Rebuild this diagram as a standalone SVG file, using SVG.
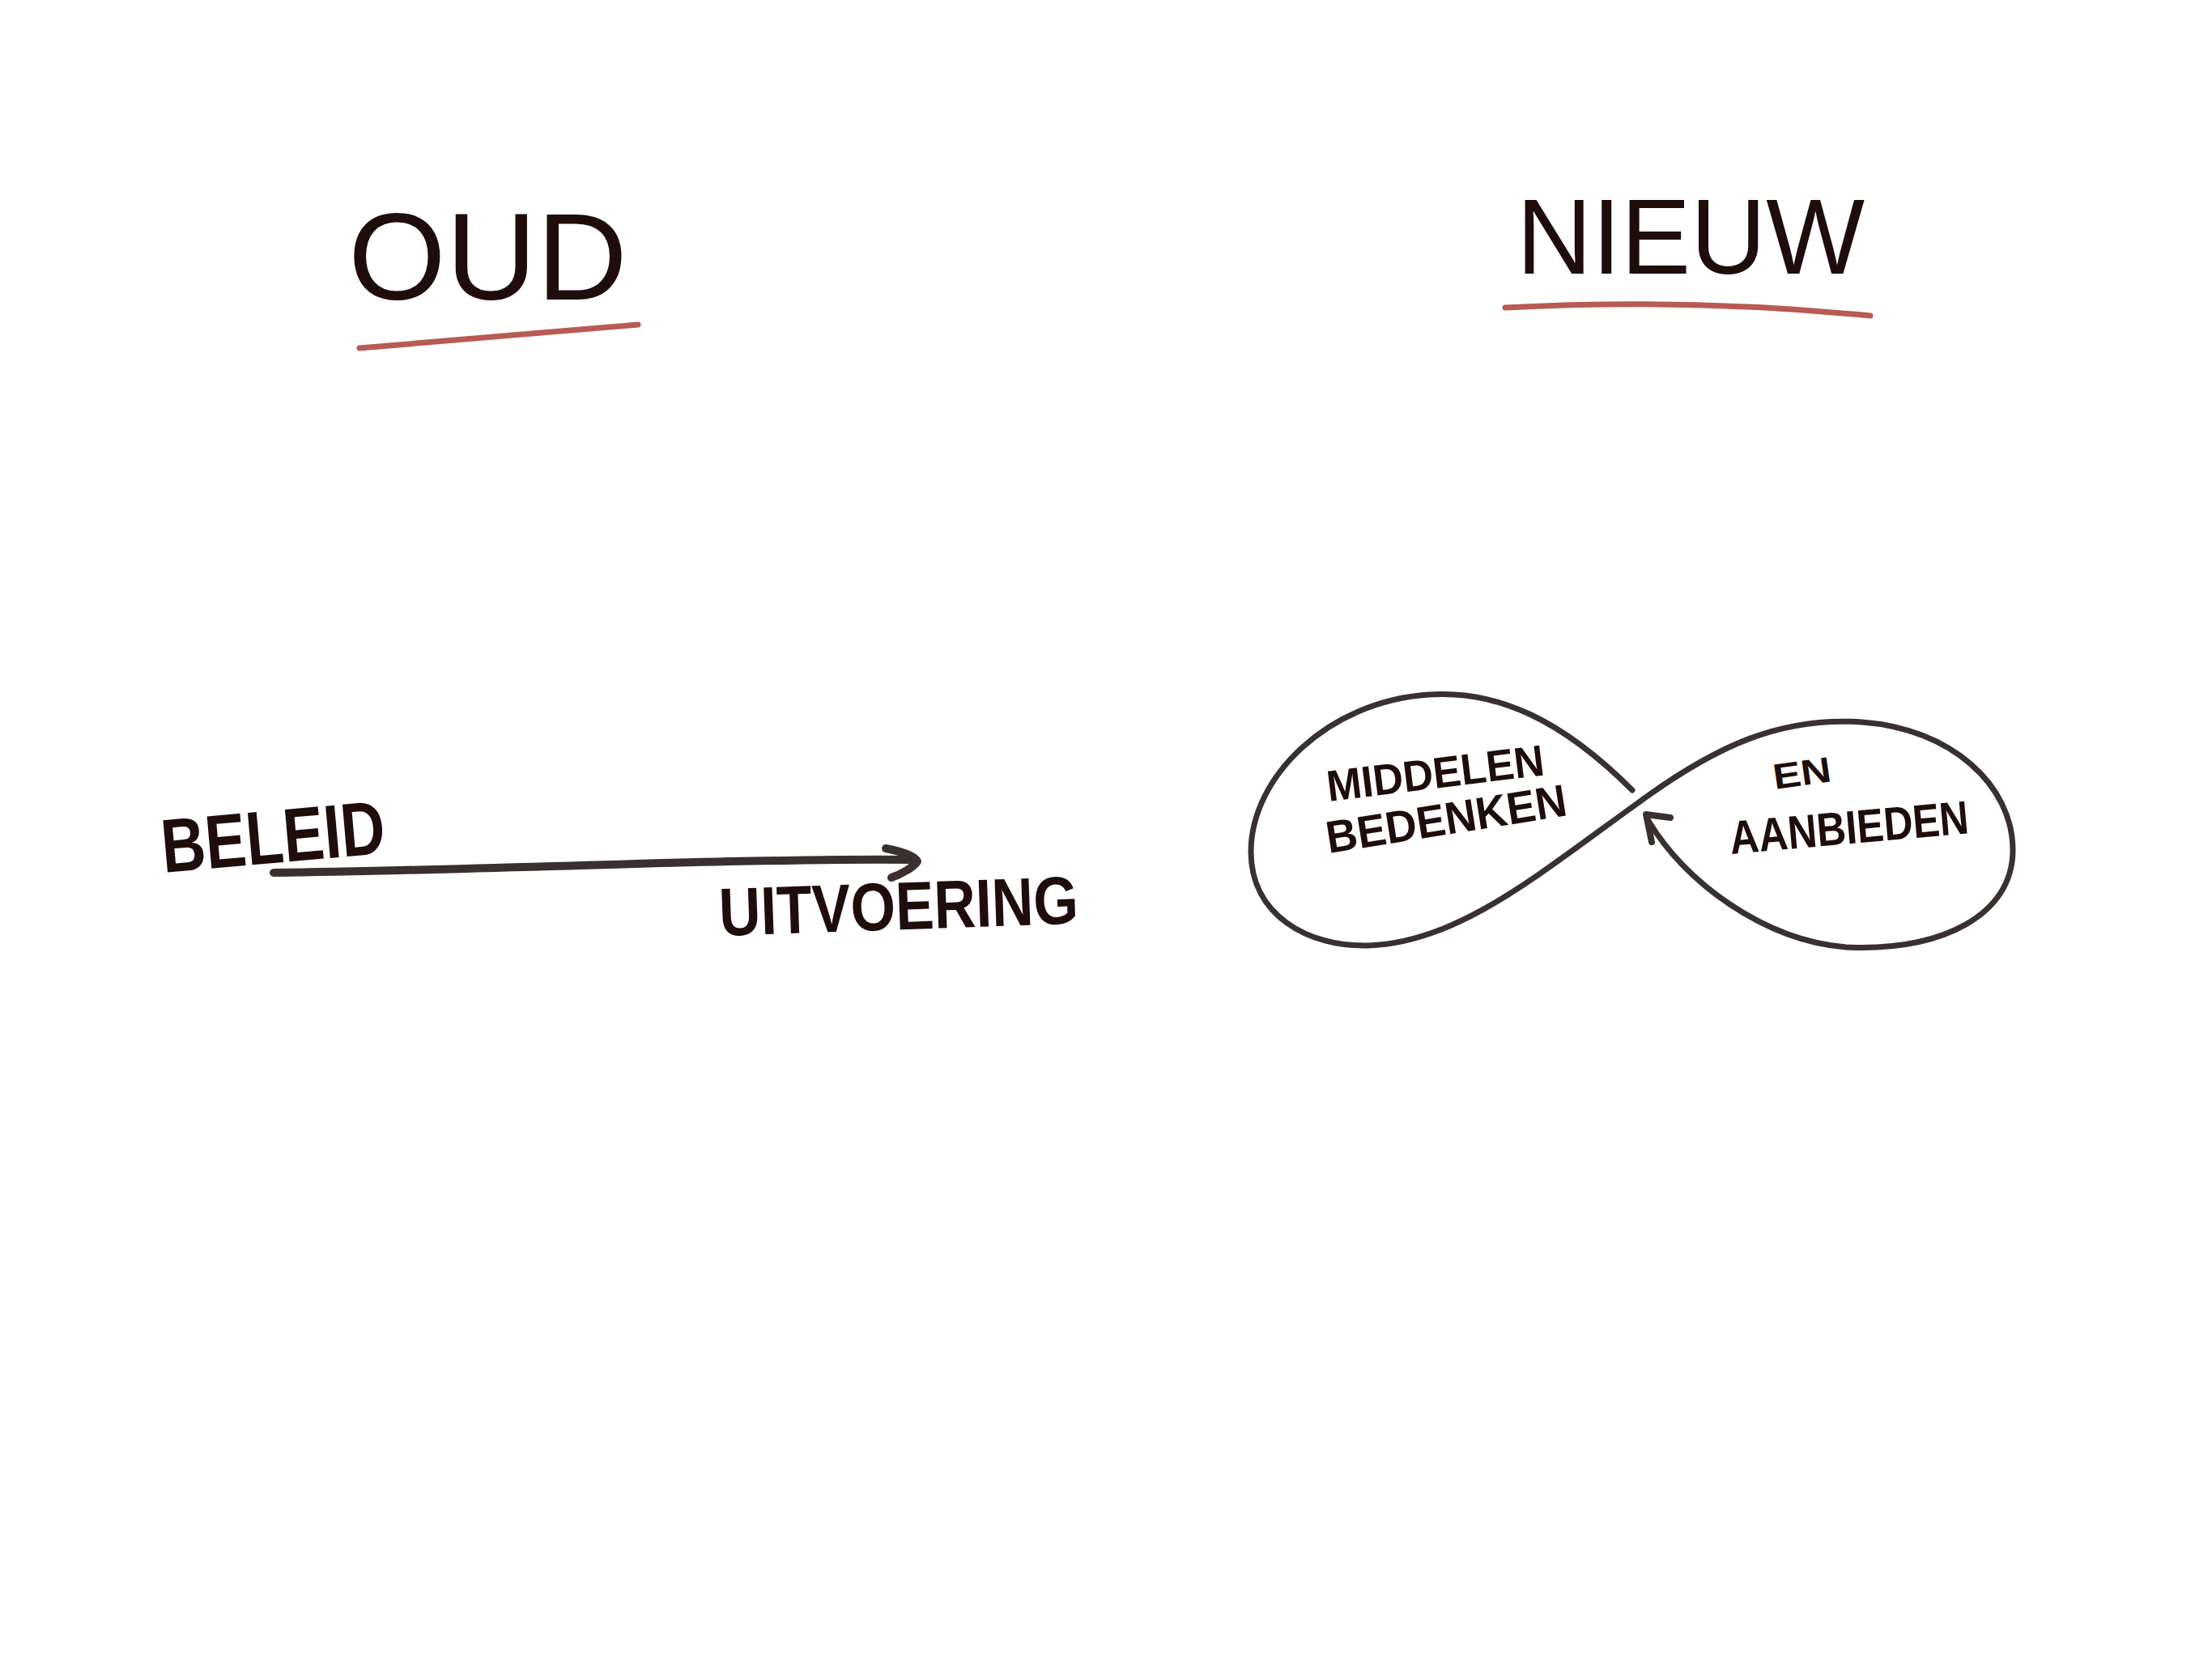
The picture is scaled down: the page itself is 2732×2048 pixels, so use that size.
<svg xmlns="http://www.w3.org/2000/svg" width="2732" height="2048" viewBox="0 0 2732 2048">
<style>
.t{font-family:"Liberation Sans","DejaVu Sans",sans-serif;fill:#1e0d0a}
.h{font-weight:normal}
.b{font-weight:bold}
.line{fill:none;stroke:#3a3030;stroke-linecap:round;stroke-linejoin:round}
.red{fill:none;stroke:#b85a55;stroke-width:7;stroke-linecap:round}
</style>
<rect width="2732" height="2048" fill="#ffffff"/>
<g id="title-oud">
<text class="t h" x="430" y="370" font-size="152" textLength="345" lengthAdjust="spacingAndGlyphs">OUD</text>
<path class="red" d="M444 430 L788 401"/>
</g>
<g id="title-nieuw">
<text class="t h" x="1873" y="338" font-size="132" textLength="430" lengthAdjust="spacingAndGlyphs">NIEUW</text>
<path class="red" d="M1859 380 Q2085 368 2310 390"/>
</g>
<g id="node-beleid">
<text class="t b" x="202" y="1078" font-size="94" textLength="277" lengthAdjust="spacingAndGlyphs" transform="rotate(-5 202 1078)">BELEID</text>
</g>
<g id="node-uitvoering">
<text class="t b" x="889" y="1156" font-size="84" textLength="444" lengthAdjust="spacingAndGlyphs" transform="rotate(-2 889 1156)">UITVOERING</text>
</g>
<g id="node-middelen">
<text class="t b" x="1641" y="990" font-size="54" textLength="270" lengthAdjust="spacingAndGlyphs" transform="rotate(-7 1641 990)">MIDDELEN</text>
<text class="t b" x="1641" y="1054" font-size="56" textLength="300" lengthAdjust="spacingAndGlyphs" transform="rotate(-9 1641 1054)">BEDENKEN</text>
</g>
<g id="node-aanbieden">
<text class="t b" x="2192" y="975" font-size="44" textLength="72" lengthAdjust="spacingAndGlyphs" transform="rotate(-8 2192 975)">EN</text>
<text class="t b" x="2138" y="1055" font-size="58" textLength="296" lengthAdjust="spacingAndGlyphs" transform="rotate(-5 2138 1055)">AANBIEDEN</text>
</g>
<g id="connectors">
<path class="line" stroke-width="10" d="M338 1078 C600 1075 900 1060 1128 1062"/>
<path class="line" stroke-width="10" d="M1094 1048 C1115 1052 1130 1058 1133 1064 C1128 1072 1112 1080 1101 1084"/>
<path class="line" stroke-width="7" d="M2016 976 C1930 890 1850 852 1765 858 C1640 866 1545 960 1545 1052 C1545 1130 1615 1170 1690 1168 C1800 1165 1900 1080 2020 994 C2120 920 2200 885 2300 892 C2410 900 2486 970 2486 1050 C2486 1130 2400 1175 2280 1170 C2180 1162 2080 1090 2035 1012"/>
<path class="line" stroke-width="8" d="M2063 1010 L2033 1006 L2040 1040"/>
</g>
</svg>
